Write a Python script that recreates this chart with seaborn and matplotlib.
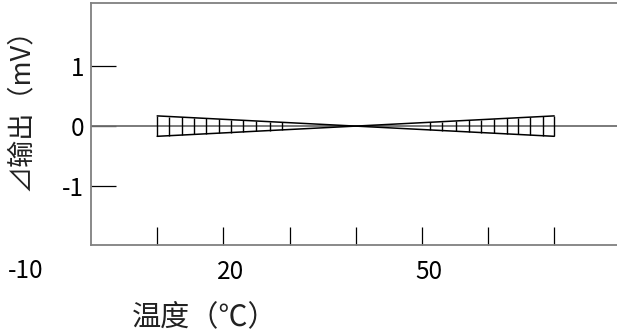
import matplotlib
matplotlib.use("Agg")
import matplotlib.pyplot as plt
import matplotlib.transforms as mtransforms
import seaborn as sns
import pandas as pd
import numpy as np

# ---- data ----
wedge_x = [10, 70]                 # wedge span (°C)
wedge_half = [0.17, 0.17]          # half-height at the two ends (mV)
cross_x = 40                       # where the two wedge edges cross
left_hatch_x = [10, 11.8, 13.7, 15.6, 17.4, 19.3, 21.1, 23.0, 25.0, 27.0, 28.9]
right_hatch_x = [51.2, 53.1, 55.2, 57.1, 59.0, 60.9, 62.8, 64.6, 66.4, 68.3, 70]
x_ticks = [10, 20, 30, 40, 50, 60, 70]
x_tick_labels = ["", "20", "", "", "50", "", ""]
extra_x_label = -10
y_ticks = [-1, 0, 1]
y_tick_labels = ["-1", "0", "1"]

sns.set_theme(style="white")
plt.rcParams['font.family'] = ['Noto Sans CJK SC', 'DejaVu Sans']
plt.rcParams['axes.unicode_minus'] = False

fig = plt.figure(figsize=(6.17, 3.35), dpi=100)
ax = fig.add_axes([91/617, (335-245)/335, (80*6.617)/617, (245-3)/335])
ax.set_xlim(0, 80)
ax.set_ylim(-1.98, 2.05)

# edges of the wedge: two straight lines crossing at cross_x
edges = pd.DataFrame({
    "x": [wedge_x[0], wedge_x[1], wedge_x[0], wedge_x[1]],
    "y": [wedge_half[0], -wedge_half[1], -wedge_half[0], wedge_half[1]],
    "edge": ["a", "a", "b", "b"],
})
ax.axhline(0, color="#707070", lw=1.3, zorder=1)
sns.lineplot(data=edges, x="x", y="y", units="edge", estimator=None,
             color="black", lw=1.1, ax=ax, legend=False, zorder=3)

def half_height(x):
    return wedge_half[0] * abs(x - cross_x) / (cross_x - wedge_x[0])

for xs in (left_hatch_x, right_hatch_x):
    hh = np.array([half_height(x) for x in xs])
    ax.vlines(xs, -hh, hh, color="black", lw=1.0, zorder=3)

ax.set_xlabel("")
ax.set_ylabel("")
ax.set_xticks(x_ticks)
ax.set_xticklabels(x_tick_labels)
ax.set_yticks(y_ticks)
ax.set_yticklabels(y_tick_labels)
ax.tick_params(axis="x", bottom=True, direction="in", length=13, width=0.9, color="black",
               pad=10, labelsize=17.5, labelcolor="black")
ax.tick_params(axis="y", left=True, direction="in", length=18, width=0.9, color="black",
               pad=5, labelsize=17.5, labelcolor="black")
offset = mtransforms.ScaledTranslation(7/100, 0, fig.dpi_scale_trans)
for lab in ax.get_xticklabels():
    lab.set_transform(lab.get_transform() + offset)

ax.text(extra_x_label + 0.15, -26/242, str(extra_x_label), transform=ax.get_xaxis_transform(),
        ha="center", va="center", fontsize=17.5, color="black", clip_on=False)

for side in ["left", "bottom", "top"]:
    ax.spines[side].set_color("#808080")
    ax.spines[side].set_linewidth(1.3)
ax.spines["right"].set_visible(False)

fig.text(20/617, 1 - 103/335, "⊿输出（mV）", rotation=90, ha="center", va="center",
         fontsize=19.5, color="#222222")
fig.text(205/617, 1 - 317/335, "温度（℃）", ha="center", va="center",
         fontsize=21, color="#222222")

fig.savefig("out.png", dpi=100)
